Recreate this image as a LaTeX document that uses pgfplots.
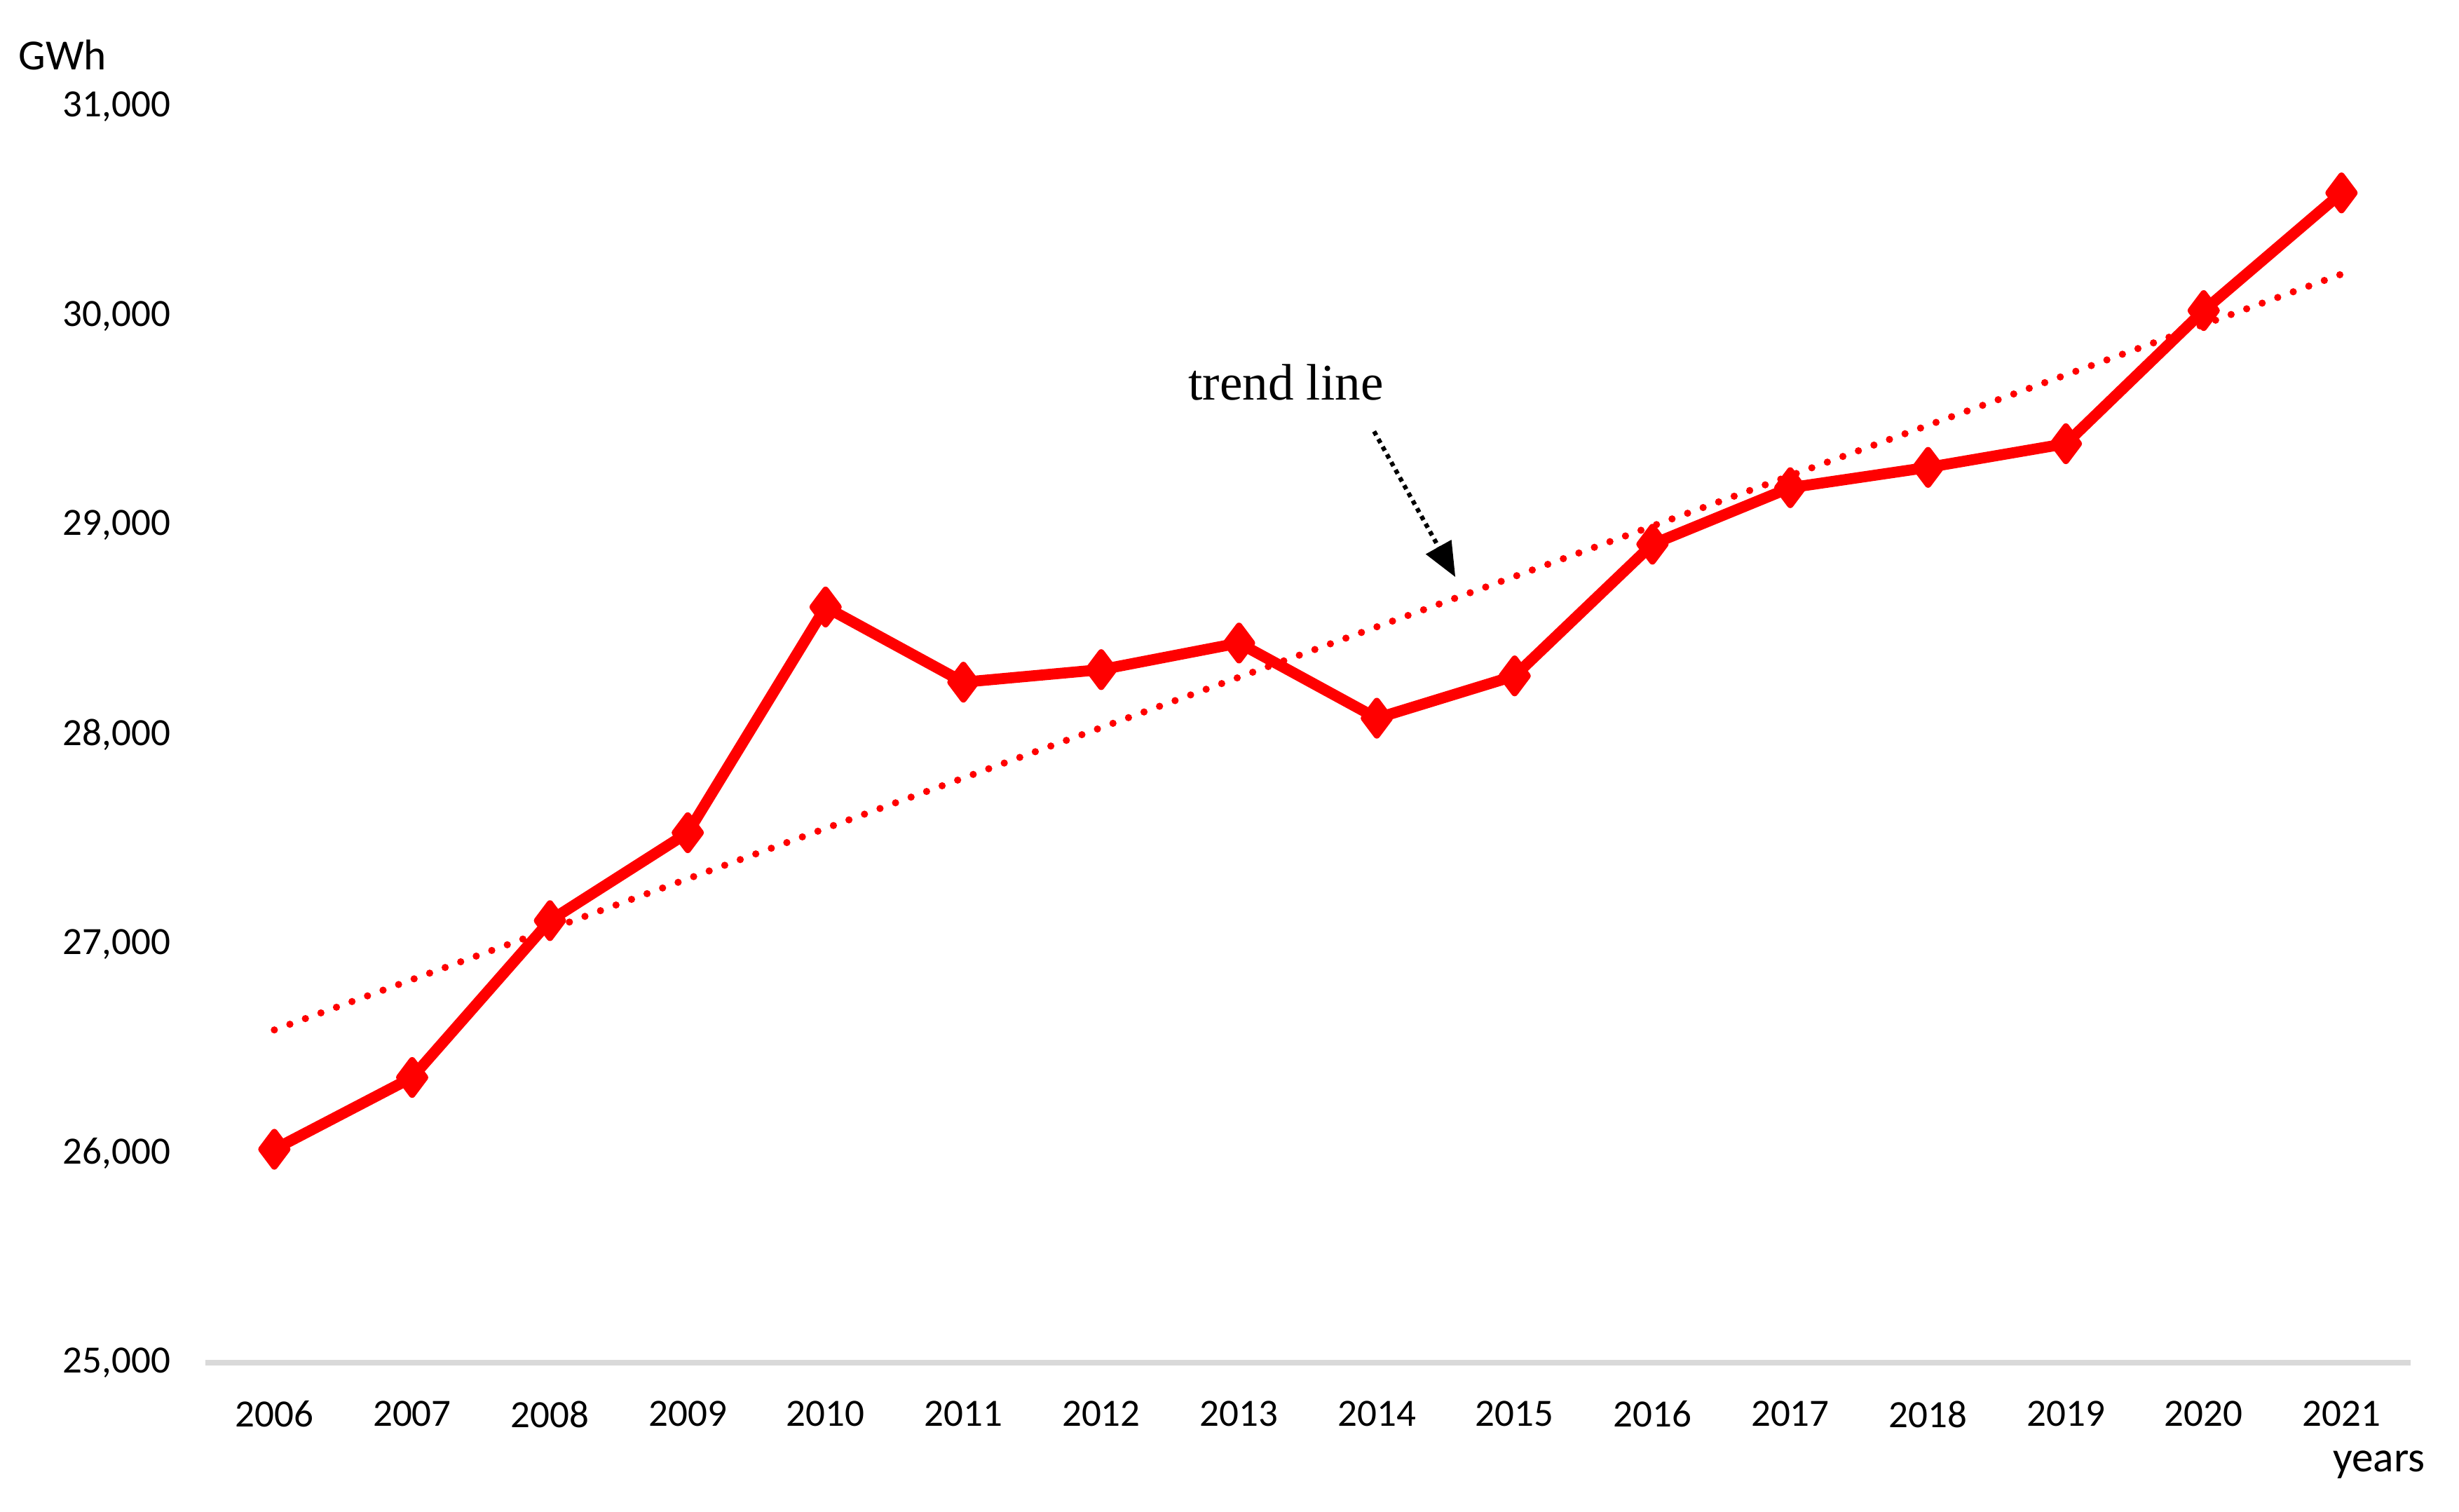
\documentclass[border=0pt]{standalone}
\usepackage{pgfplots}
\pgfplotsset{compat=1.18}
\usepackage{fontspec}
\setmainfont{Carlito}
\newfontfamily\seriffont{Liberation Serif}
\usetikzlibrary{arrows.meta}
\definecolor{axisgray}{HTML}{D9D9D9}
\begin{document}
\begin{tikzpicture}
\begin{axis}[
  at={(0,0)}, anchor=south west,
  scale only axis,
  width=14.06cm, height=8.01cm,
  xmin=-0.5, xmax=15.5,
  ymin=25000, ymax=31000,
  xtick={0,...,15},
  xticklabels={2006,2007,2008,2009,2010,2011,2012,2013,2014,2015,2016,2017,2018,2019,2020,2021},
  ytick={25000,26000,27000,28000,29000,30000,31000},
  scaled y ticks=false,
  axis x line=bottom, axis y line=left,
  x axis line style={draw=axisgray, line width=1pt, -},
  y axis line style={draw=none},
  tick style={draw=none},
  major tick length=0pt,
  /pgf/number format/assume math mode=true,
  /pgf/number format/.cd, fixed, 1000 sep={,}, /pgfplots/.cd,
  ticklabel style={font=\fontsize{7}{8}\selectfont},
  xticklabel style={yshift=-0.12cm},
  yticklabel style={xshift=-0.10cm},
  clip=false,
]
\addplot[red, line width=1.3pt, line cap=round, dash pattern=on 0pt off 3pt]
  coordinates {(0,26590) (15,30200)};
\addplot[red, line width=2pt, line join=round, mark=diamond*, mark size=3.1pt,
  mark options={solid, fill=red, line width=1.2pt, line join=round}]
  coordinates {
  (0,26020) (1,26363) (2,27112) (3,27532) (4,28610) (5,28251)
  (6,28311) (7,28438) (8,28079) (9,28281) (10,28910) (11,29180)
  (12,29277) (13,29390) (14,30026) (15,30588)};
\node[font=\seriffont\fontsize{9.3}{11}\selectfont] at (axis cs:7.34,29682) {trend line};
\draw[black, line width=0.8pt, dash pattern=on 0.8pt off 0.8pt, -{Triangle[length=0.22cm,width=0.18cm]}]
  (axis cs:7.98,29449) -- (axis cs:8.57,28753);
\end{axis}
\node[font=\fontsize{7.8}{9}\selectfont] at (-0.91,8.34) {GWh};
\node[font=\fontsize{7.8}{9}\selectfont] at (13.86,-0.65) {years};
\pgfresetboundingbox
\path (-1.31,-0.95) rectangle (14.37,8.69);
\end{tikzpicture}
\end{document}
